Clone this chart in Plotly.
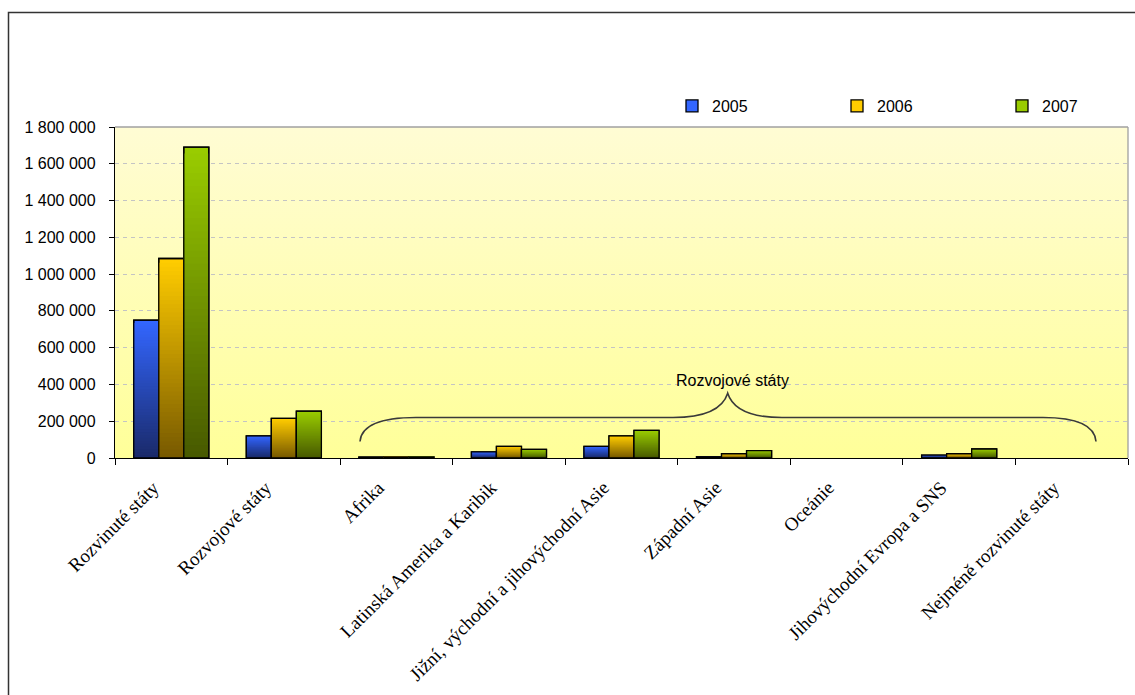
import base64
import plotly.graph_objects as go

# --- data -------------------------------------------------------------
categories = [
    "Rozvinuté státy",
    "Rozvojové státy",
    "Afrika",
    "Latinská Amerika a Karibik",
    "Jižní, východní a jihovýchodní Asie",
    "Západní Asie",
    "Oceánie",
    "Jihovýchodní Evropa a SNS",
    "Nejméně rozvinuté státy",
]
years = ["2005", "2006", "2007"]
values_2005 = [750000, 120000, 5000, 33000, 63000, 7000, 0, 16000, 0]
values_2006 = [1085000, 216000, 6000, 63000, 120000, 23000, 0, 23000, 0]
values_2007 = [1691000, 255000, 6000, 47000, 150000, 40000, 0, 49000, 0]
y_tick_values = [0, 200000, 400000, 600000, 800000, 1000000, 1200000,
                 1400000, 1600000, 1800000]
y_tick_labels = ["0", "200 000", "400 000", "600 000", "800 000",
                 "1 000 000", "1 200 000", "1 400 000", "1 600 000",
                 "1 800 000"]
group_label = "Rozvojové státy"

series = [values_2005, values_2006, values_2007]

# bright (top) and dark (bottom) shade of each year's column
shades = [
    ((0x33, 0x66, 0xFF), (0x1A, 0x2A, 0x6A)),
    ((0xFF, 0xCC, 0x00), (0x78, 0x5A, 0x00)),
    ((0x99, 0xCC, 0x00), (0x48, 0x5A, 0x00)),
]

# --- figure geometry -----------------------------------------------------
W, H = 1135, 695
ML, MR, MT, MB = 115, 7, 127, 237
PW = W - ML - MR
PH = H - MT - MB


def px_x(x):
    return (x - ML) / PW


def px_y(y):
    return (H - MB - y) / PH


def mix(a, b, t):
    return "rgb(%d,%d,%d)" % tuple(round(a[i] + (b[i] - a[i]) * t) for i in range(3))


fig = go.Figure()

# each column is painted as a stack of overlapping, progressively shorter
# bars that darken towards the base, giving a vertical gradient
LAYERS = 48
for year, vals, (top, bottom) in zip(years, series, shades):
    outline_w = [1.3 if v > 0 else 0 for v in vals]
    for k in range(LAYERS):
        frac = 1 - k / LAYERS
        fig.add_trace(go.Bar(
            x=categories,
            y=[v * frac for v in vals],
            name=year,
            offsetgroup=year,
            legendgroup=year,
            showlegend=(k == 0),
            marker=dict(
                color=mix(top, bottom, k / (LAYERS - 1)),
                line=dict(color="black", width=outline_w if k == 0 else 0),
            ),
            hoverinfo="skip" if k else "x+y+name",
        ))
    # crisp outline on top of the gradient
    fig.add_trace(go.Bar(
        x=categories, y=vals, name=year, offsetgroup=year,
        legendgroup=year, showlegend=False, hoverinfo="skip",
        marker=dict(color="rgba(0,0,0,0)", line=dict(color="black", width=outline_w)),
    ))

# plot-area background gradient
svg = (
    "<svg xmlns='http://www.w3.org/2000/svg' width='10' height='100' "
    "viewBox='0 0 10 100' preserveAspectRatio='none'>"
    "<defs><linearGradient id='g' x1='0' y1='0' x2='0' y2='1'>"
    "<stop offset='0' stop-color='#FFFCD4'/>"
    "<stop offset='1' stop-color='#FFFF99'/>"
    "</linearGradient></defs>"
    "<rect width='10' height='100' fill='url(#g)'/></svg>"
)
bg_src = "data:image/svg+xml;base64," + base64.b64encode(svg.encode()).decode()

# curly brace grouping the developing regions
b_lo, b_mid, b_hi = 90000, 220000, 352000
brace = (
    f"M {px_x(360)},{b_lo} Q {px_x(362)},{b_mid} {px_x(416)},{b_mid} "
    f"L {px_x(673)},{b_mid} Q {px_x(720)},{b_mid} {px_x(727.7)},{b_hi} "
    f"Q {px_x(735.4)},{b_mid} {px_x(782)},{b_mid} "
    f"L {px_x(1043)},{b_mid} Q {px_x(1094)},{b_mid} {px_x(1096)},{b_lo}"
)

fig.update_layout(
    width=W, height=H,
    margin=dict(l=ML, r=MR, t=MT, b=MB, autoexpand=False),
    paper_bgcolor="white",
    plot_bgcolor="#FFFDBE",
    barmode="group",
    bargap=0.333,
    bargroupgap=0,
    font=dict(family="Liberation Sans, Arial, sans-serif", size=16, color="black"),
    showlegend=True,
    legend=dict(
        orientation="h",
        x=px_x(672), xanchor="left",
        y=px_y(106), yanchor="middle",
        entrywidth=120, entrywidthmode="pixels",
        bgcolor="rgba(0,0,0,0)",
        font=dict(size=16),
        traceorder="normal",
        itemclick=False, itemdoubleclick=False,
    ),
    images=[dict(
        source=bg_src, xref="paper", yref="paper", x=0, y=1,
        sizex=1, sizey=1, sizing="stretch", xanchor="left", yanchor="top",
        layer="below",
    )],
    shapes=[
        # outer frame
        dict(type="rect", xref="paper", yref="paper",
             x0=px_x(8.5), x1=px_x(1200), y0=px_y(760), y1=px_y(12.5),
             line=dict(color="#333333", width=1.5), fillcolor="rgba(0,0,0,0)"),
        # top and right edges of the plot area
        dict(type="line", xref="paper", yref="paper", x0=0, x1=1, y0=1, y1=1,
             line=dict(color="#A0A0A0", width=1.3)),
        dict(type="line", xref="paper", yref="paper", x0=1, x1=1, y0=0, y1=1,
             line=dict(color="#A0A0A0", width=1.3)),
        dict(type="path", xref="paper", yref="y", path=brace,
             line=dict(color="#3A3A3A", width=1.6)),
    ],
    annotations=[dict(
        text=group_label, xref="paper", yref="y",
        x=px_x(732), y=b_hi + 70000, showarrow=False,
        font=dict(size=16), xanchor="center", yanchor="middle",
    )],
)

fig.update_xaxes(
    type="category",
    tickson="boundaries",
    ticks="outside", ticklen=6, tickcolor="black", tickwidth=1.2,
    showline=True, linecolor="black", linewidth=1.3,
    showgrid=False,
    tickangle=-45,
    tickfont=dict(family="Liberation Serif, Times New Roman, serif", size=19),
    ticklabelstandoff=10,
    ticklabelshift=-18,
)
fig.update_yaxes(
    range=[0, 1800000],
    tickvals=y_tick_values, ticktext=y_tick_labels,
    ticks="outside", ticklen=5, tickcolor="black", tickwidth=1.2,
    showline=True, linecolor="black", linewidth=1.3,
    showgrid=True, gridcolor="#C4C4C4", gridwidth=1, griddash="4px,4px",
    zeroline=False,
    tickfont=dict(size=16),
    ticklabelstandoff=10,
)

fig.write_html("out.html")
